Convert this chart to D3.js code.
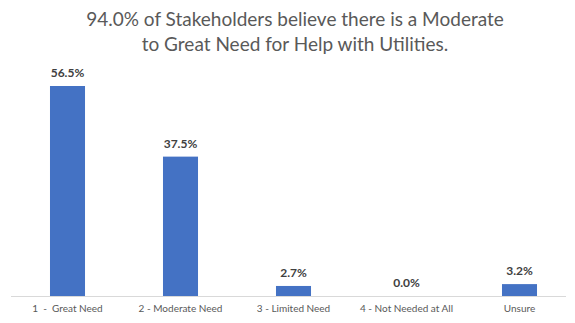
<!DOCTYPE html>
<html><head><meta charset="utf-8">
<script src="https://cdn.jsdelivr.net/npm/d3@7"></script>
<style>body{margin:0;background:#fff}svg{display:block}</style>
</head><body>
<script>
const categories = ["1  -  Great Need", "2 - Moderate Need", "3 - Limited Need", "4 - Not Needed at All", "Unsure"];
const values = [56.5, 37.5, 2.7, 0.0, 3.2];
const titleLines = ["94.0% of Stakeholders believe there is a Moderate", "to Great Need for Help with Utilities."];

const W = 575, H = 323;
const svg = d3.select("body").append("svg").attr("width", W).attr("height", H);
const font = "Lato, 'Open Sans', sans-serif";

const x = d3.scaleBand().domain(categories).range([11, 576]).paddingInner(0.69).paddingOuter(0.345);
const y = d3.scaleLinear().domain([0, 56.5]).range([296, 86]);

svg.selectAll("text.title").data(titleLines).enter().append("text")
  .attr("x", 295).attr("y", (d, i) => 26 + i * 25)
  .attr("text-anchor", "middle").attr("font-family", font).attr("font-size", 19)
  .attr("fill", "#595959").text(d => d);

svg.selectAll("rect.bar").data(values).enter().append("rect")
  .attr("x", (d, i) => x(categories[i])).attr("width", x.bandwidth())
  .attr("y", d => y(d)).attr("height", d => y(0) - y(d)).attr("fill", "#4472c4");

svg.append("line").attr("x1", 11).attr("x2", 566).attr("y1", 296.5).attr("y2", 296.5)
  .attr("stroke", "#d9d9d9").attr("stroke-width", 1);

svg.selectAll("text.val").data(values).enter().append("text")
  .attr("x", (d, i) => x(categories[i]) + x.bandwidth() / 2).attr("y", d => y(d) - 9)
  .attr("text-anchor", "middle").attr("font-family", font).attr("font-size", 12).attr("font-weight", "bold")
  .attr("fill", "#404040").text(d => d.toFixed(1) + "%");

const xAxis = svg.append("g").attr("transform", "translate(0,296)")
  .call(d3.axisBottom(x).tickSize(0).tickPadding(9));
xAxis.select(".domain").remove();
xAxis.selectAll("text").attr("font-family", font).attr("font-size", 10).attr("fill", "#595959")
  .style("white-space", "pre");
</script>
</body></html>
